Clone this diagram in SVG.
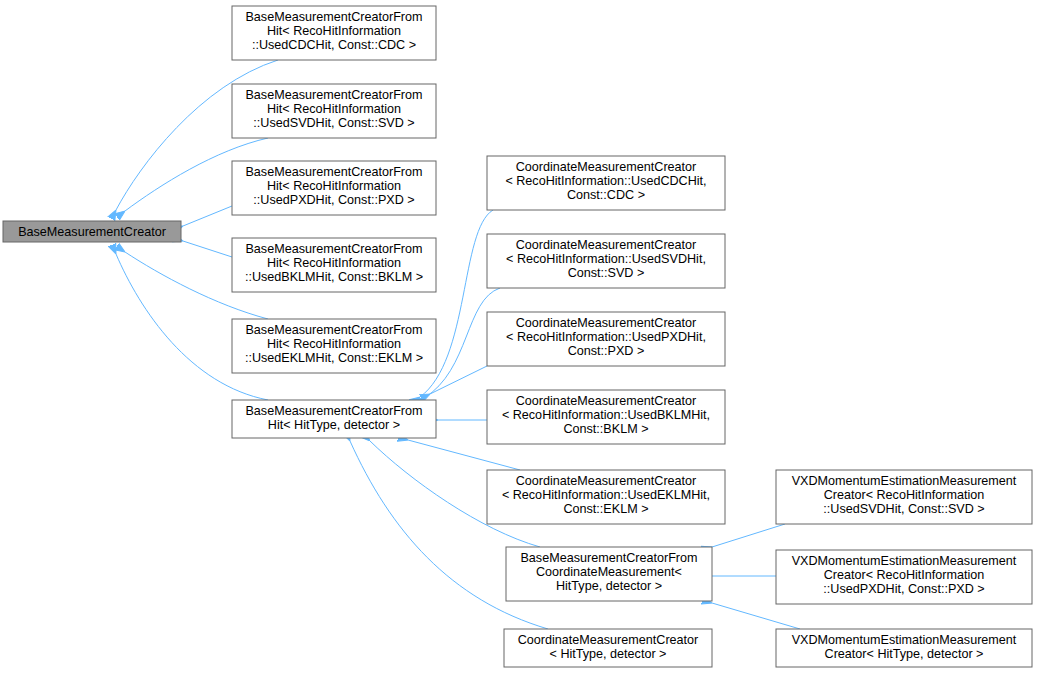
<svg xmlns="http://www.w3.org/2000/svg" width="1039" height="674" viewBox="0 0 1039 674">
<style>
.n rect{fill:#fff;stroke:#666;stroke-width:1}
.n text{font-family:"Liberation Sans",Arial,sans-serif;font-size:12.6px;fill:#000;text-anchor:middle}
.e path{fill:none;stroke:#63b8ff;stroke-width:1;marker-start:url(#a)}
</style>
<defs><marker id="a" viewBox="0 0 10 10" refX="0" refY="5" markerWidth="10" markerHeight="10" markerUnits="userSpaceOnUse" orient="auto-start-reverse"><path d="M10,1 L0,5 L10,9 Z" fill="#63b8ff" stroke="#63b8ff"/></marker></defs>
<rect width="1039" height="674" fill="#fff"/>
<g id="edges" class="e">
<path d="M116,210 C140,165 200,85 278,60"/>
<path d="M125,211 C160,185 215,150 268,138"/>
<path d="M183,226 L232,206"/>
<path d="M183,241 L232,257"/>
<path d="M125,252 C160,275 215,305 268,319"/>
<path d="M116,254 C140,310 190,385 268,400"/>
<path d="M420,397 C470,360 460,230 493,210"/>
<path d="M424,398 C470,370 465,300 500,288"/>
<path d="M430,394 L487,366"/>
<path d="M438,420 L487,420"/>
<path d="M408,440 L520,470"/>
<path d="M370,441 C410,480 480,530 540,547"/>
<path d="M350,441 C390,530 450,600 548,629"/>
<path d="M712,547 L785,524"/>
<path d="M712,576 L776,576"/>
<path d="M712,603 L800,629"/>
</g>
<g id="n0" class="n"><rect x="3" y="221" width="178" height="21" style="fill:#999"/><text x="92" y="236">BaseMeasurementCreator</text></g>
<g id="n1" class="n"><rect x="232" y="6" width="204" height="54"/><text x="334" y="21">BaseMeasurementCreatorFrom</text><text x="334" y="35">Hit&lt; RecoHitInformation</text><text x="334" y="49">::UsedCDCHit, Const::CDC &gt;</text></g>
<g id="n2" class="n"><rect x="232" y="84" width="204" height="54"/><text x="334" y="99">BaseMeasurementCreatorFrom</text><text x="334" y="113">Hit&lt; RecoHitInformation</text><text x="334" y="127">::UsedSVDHit, Const::SVD &gt;</text></g>
<g id="n3" class="n"><rect x="232" y="161" width="204" height="54"/><text x="334" y="176">BaseMeasurementCreatorFrom</text><text x="334" y="190">Hit&lt; RecoHitInformation</text><text x="334" y="204">::UsedPXDHit, Const::PXD &gt;</text></g>
<g id="n4" class="n"><rect x="232" y="238" width="204" height="54"/><text x="334" y="253">BaseMeasurementCreatorFrom</text><text x="334" y="267">Hit&lt; RecoHitInformation</text><text x="334" y="281">::UsedBKLMHit, Const::BKLM &gt;</text></g>
<g id="n5" class="n"><rect x="232" y="319" width="204" height="54"/><text x="334" y="334">BaseMeasurementCreatorFrom</text><text x="334" y="348">Hit&lt; RecoHitInformation</text><text x="334" y="362">::UsedEKLMHit, Const::EKLM &gt;</text></g>
<g id="n6" class="n"><rect x="232" y="400" width="204" height="38"/><text x="334" y="415">BaseMeasurementCreatorFrom</text><text x="334" y="429">Hit&lt; HitType, detector &gt;</text></g>
<g id="n7" class="n"><rect x="487" y="156" width="238" height="54"/><text x="606" y="171">CoordinateMeasurementCreator</text><text x="606" y="185">&lt; RecoHitInformation::UsedCDCHit,</text><text x="606" y="199">Const::CDC &gt;</text></g>
<g id="n8" class="n"><rect x="487" y="234" width="238" height="54"/><text x="606" y="249">CoordinateMeasurementCreator</text><text x="606" y="263">&lt; RecoHitInformation::UsedSVDHit,</text><text x="606" y="277">Const::SVD &gt;</text></g>
<g id="n9" class="n"><rect x="487" y="312" width="238" height="54"/><text x="606" y="327">CoordinateMeasurementCreator</text><text x="606" y="341">&lt; RecoHitInformation::UsedPXDHit,</text><text x="606" y="355">Const::PXD &gt;</text></g>
<g id="n10" class="n"><rect x="487" y="390" width="238" height="54"/><text x="606" y="405">CoordinateMeasurementCreator</text><text x="606" y="419">&lt; RecoHitInformation::UsedBKLMHit,</text><text x="606" y="433">Const::BKLM &gt;</text></g>
<g id="n11" class="n"><rect x="487" y="470" width="238" height="54"/><text x="606" y="485">CoordinateMeasurementCreator</text><text x="606" y="499">&lt; RecoHitInformation::UsedEKLMHit,</text><text x="606" y="513">Const::EKLM &gt;</text></g>
<g id="n12" class="n"><rect x="506" y="547" width="206" height="54"/><text x="609" y="562">BaseMeasurementCreatorFrom</text><text x="609" y="576">CoordinateMeasurement&lt;</text><text x="609" y="590">HitType, detector &gt;</text></g>
<g id="n13" class="n"><rect x="504" y="629" width="208" height="38"/><text x="608" y="644">CoordinateMeasurementCreator</text><text x="608" y="658">&lt; HitType, detector &gt;</text></g>
<g id="n14" class="n"><rect x="776" y="470" width="256" height="54"/><text x="904" y="485">VXDMomentumEstimationMeasurement</text><text x="904" y="499">Creator&lt; RecoHitInformation</text><text x="904" y="513">::UsedSVDHit, Const::SVD &gt;</text></g>
<g id="n15" class="n"><rect x="776" y="550" width="256" height="54"/><text x="904" y="565">VXDMomentumEstimationMeasurement</text><text x="904" y="579">Creator&lt; RecoHitInformation</text><text x="904" y="593">::UsedPXDHit, Const::PXD &gt;</text></g>
<g id="n16" class="n"><rect x="776" y="629" width="256" height="38"/><text x="904" y="644">VXDMomentumEstimationMeasurement</text><text x="904" y="658">Creator&lt; HitType, detector &gt;</text></g>
</svg>
